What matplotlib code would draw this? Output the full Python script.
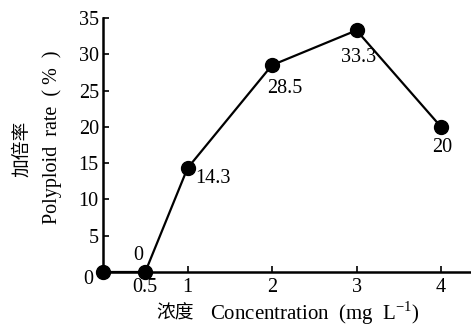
import matplotlib
matplotlib.use("Agg")
import matplotlib.pyplot as plt

conc = [0, 0.5, 1, 2, 3, 4]
rate = [0, 0, 14.3, 28.5, 33.3, 20]
labels = ["", "0", "14.3", "28.5", "33.3", "20"]
xticks = [0.5, 1, 2, 3, 4]
xticklabels = ["0.5", "1", "2", "3", "4"]
yticks = [5, 10, 15, 20, 25, 30, 35]

plt.rcParams['font.family'] = ['Liberation Serif', 'Noto Sans CJK SC']
plt.rcParams['mathtext.fontset'] = 'custom'
plt.rcParams['mathtext.rm'] = 'Liberation Serif'
fig = plt.figure(figsize=(4.71, 3.27), dpi=100)
ax = fig.add_axes([103/471, 55/327, 1 - 103/471, 254/327])
ax.plot(conc, rate, color='black', lw=1.6, marker='o', ms=10, clip_on=False, zorder=3)
ax.set_xlim(0, 4.355)
ax.set_ylim(0, 35)
ax.spines['top'].set_visible(False)
ax.spines['right'].set_visible(False)
for s in ['left', 'bottom']:
    ax.spines[s].set_linewidth(1.8)
ax.set_xticks(xticks)
ax.set_xticklabels(xticklabels)
ax.set_yticks(yticks)
ax.tick_params(direction='in', length=4, width=1.2, labelsize=14.5, pad=3)
ax.tick_params(axis='x', pad=4)
# origin label
ax.text(-0.17, -1.0, "0", ha='center', va='center', fontsize=14.5)

offsets = {1: (-7, 17, 'center', 'center'), 2: (25, -10, 'center', 'center'),
           3: (13, -23, 'center', 'center'), 4: (2, -27, 'center', 'center'),
           5: (1, -21, 'center', 'center')}
for i, (dx, dy, ha, va) in offsets.items():
    ax.annotate(labels[i], (conc[i], rate[i]), xytext=(dx, dy), textcoords='offset pixels',
                ha=ha, va=va, fontsize=14.5)

fig.text(175/471, 1 - 313/327, "浓度", ha='center', va='center', fontsize=13.5,
         family=['Noto Sans CJK SC'])
fig.text(210/471, 1 - 313/327, "Concentration  (mg  L$^{\\mathrm{-1}}$)",
         ha='left', va='center', fontsize=15)
fig.text(52/471, 1 - 137/327, "Polyploid  rate  ( %  )", rotation=90, ha='center',
         va='center', fontsize=14.5)
fig.text(22/471, 1 - 149/327, "加倍率", rotation=90, ha='center', va='center', fontsize=13.5,
         family=['Noto Sans CJK SC'])

fig.savefig("out.png", dpi=100)
